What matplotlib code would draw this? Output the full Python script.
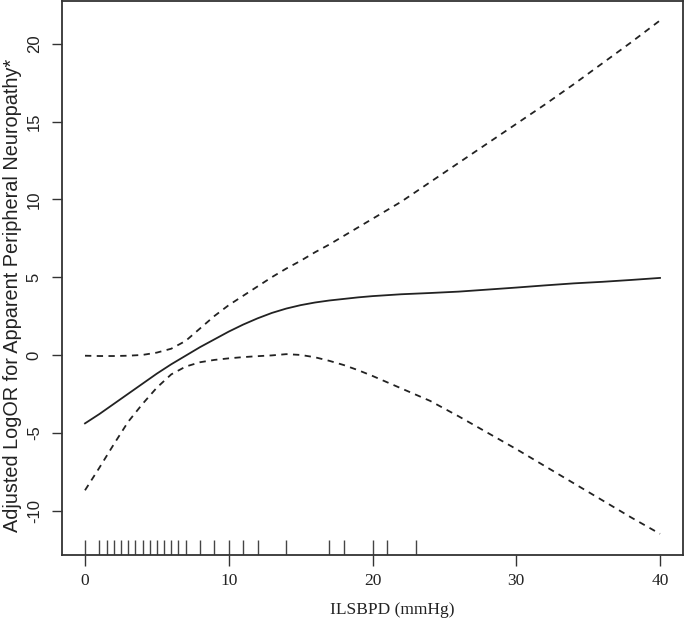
import matplotlib
matplotlib.use("Agg")
import matplotlib.pyplot as pyplot

# ILSBPD values
ilsbpd = [0, 1, 2, 3, 4, 5, 6, 7, 8, 9, 10, 11, 12, 13, 14, 15, 16, 17, 18, 19, 20,
          22, 24, 26, 28, 30, 32, 34, 36, 38, 40]
fit = [-4.4, -3.8, -3.15, -2.5, -1.85, -1.2, -0.6, -0.05, 0.5, 1.0, 1.5, 1.95, 2.35, 2.7,
       2.98, 3.2, 3.37, 3.5, 3.6, 3.7, 3.78, 3.9, 3.98, 4.07, 4.2, 4.33, 4.47, 4.6, 4.7,
       4.82, 4.95]
upper = [-0.05, -0.07, -0.07, -0.05, 0.0, 0.15, 0.4, 0.9, 1.7, 2.5, 3.2, 3.8, 4.4, 5.0,
         5.55, 6.05, 6.6, 7.1, 7.65, 8.2, 8.75, 9.85, 11.1, 12.35, 13.6, 14.85, 16.1,
         17.4, 18.75, 20.1, 21.5]
lower = [-8.7, -7.25, -5.75, -4.3, -3.15, -2.1, -1.25, -0.75, -0.47, -0.32, -0.22, -0.14,
         -0.08, -0.03, 0.05, 0.0, -0.15, -0.38, -0.65, -0.98, -1.35, -2.15, -2.95, -3.95,
         -5.0, -6.05, -7.15, -8.25, -9.35, -10.45, -11.5]

# observed ILSBPD values (rug)
rug = [0, 1, 1.5, 2, 2.5, 3, 3.5, 4, 4.5, 5, 5.5, 6, 6.5, 7, 8, 9, 10, 11, 12, 14,
       17, 18, 20, 21, 23]

xticks = [0, 10, 20, 30, 40]
yticks = [-10, -5, 0, 5, 10, 15, 20]

sans = "Liberation Sans"
serif = "Liberation Serif"
ink = "#222222"

fig = pyplot.figure(figsize=(6.85, 6.23), dpi=100)
axis = fig.add_axes([62 / 685, 68 / 623, 621 / 685, 554 / 623])

axis.plot(ilsbpd, fit, color=ink, linewidth=1.3)
axis.plot(ilsbpd, upper, color=ink, linewidth=1.3, linestyle=(0, (3.5, 3)))
axis.plot(ilsbpd, lower, color=ink, linewidth=1.3, linestyle=(0, (3.5, 3)))

axis.vlines(rug, 0, 0.027, transform=axis.get_xaxis_transform(), color="#444444",
            linewidth=1.0)

axis.set_xlim(-1.6, 41.6)
axis.set_ylim(-12.86, 22.75)

axis.set_xticks(xticks)
axis.set_xticklabels([str(v) for v in xticks], fontfamily=serif, fontsize=12.5, color=ink)
axis.set_yticks(yticks)
axis.set_yticklabels([str(v) for v in yticks], fontfamily=sans, fontsize=12, color=ink,
                     rotation=90, va="center")
axis.tick_params(axis="x", length=8, width=1.0, color="#333333", pad=5)
axis.tick_params(axis="y", length=7.5, width=1.0, color="#333333", pad=7)

for side in axis.spines.values():
    side.set_color("#333333")
    side.set_linewidth(1.3)

fig.text(392 / 685, 1 - 610 / 623, "ILSBPD (mmHg)", family=serif, fontsize=12.5,
         color=ink, ha="center", va="center")
fig.text(13 / 685, 1 - 295 / 623, "Adjusted LogOR for Apparent Peripheral Neuropathy*",
         family=sans, fontsize=14.3, color=ink, ha="center", va="center", rotation=90)

fig.savefig("out.png", dpi=100)
